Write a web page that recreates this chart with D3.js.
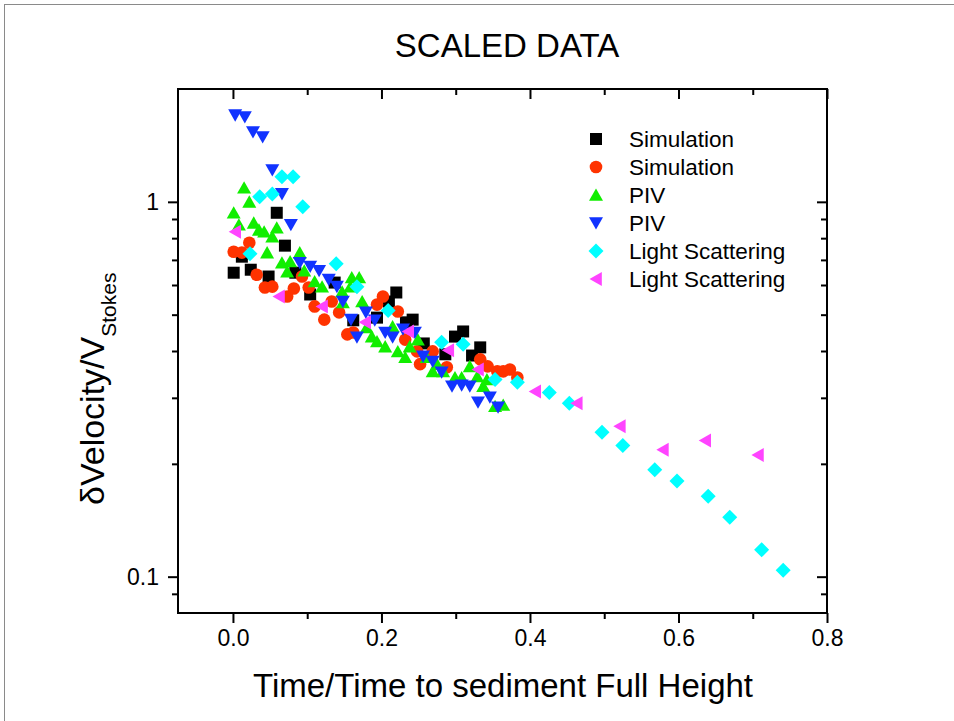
<!DOCTYPE html>
<html>
<head>
<meta charset="utf-8">
<script src="https://cdn.jsdelivr.net/npm/d3@7"></script>
<style>
  body { margin: 0; background: #fff; }
  svg text { font-family: "Liberation Sans", Arial, sans-serif; fill: #000; }
</style>
</head>
<body>
<div id="chart"></div>
<script>
// x: time / time to sediment full height, y: dV / V_stokes
const simSquareX = [0.001,0.012,0.024,0.048,0.059,0.070,0.084,0.104,0.137,0.162,0.194,0.210,0.220,0.233,0.242,0.257,0.286,0.299,0.310,0.322,0.333];
const simSquareY = [0.647,0.714,0.659,0.632,0.935,0.764,0.647,0.566,0.609,0.483,0.491,0.542,0.573,0.477,0.485,0.419,0.392,0.437,0.451,0.389,0.409];

const simCircleX = [0.001,0.012,0.022,0.032,0.043,0.053,0.073,0.082,0.093,0.102,0.110,0.123,0.133,0.143,0.154,0.162,0.194,0.202,0.222,0.232,0.248,0.252,0.269,0.288,0.333,0.343,0.356,0.364,0.373,0.383];
const simCircleY = [0.736,0.732,0.778,0.639,0.591,0.594,0.559,0.587,0.632,0.591,0.526,0.485,0.542,0.507,0.443,0.448,0.532,0.559,0.510,0.429,0.399,0.369,0.399,0.362,0.380,0.364,0.353,0.353,0.357,0.340];

const pivUpX = [0.001,0.008,0.015,0.022,0.028,0.035,0.042,0.046,0.053,0.059,0.066,0.073,0.077,0.090,0.096,0.110,0.120,0.147,0.160,0.170,0.174,0.148,0.158,0.180,0.187,0.194,0.205,0.215,0.222,0.232,0.238,0.249,0.261,0.269,0.275,0.283,0.299,0.308,0.319,0.329,0.337,0.342,0.353,0.364];
const pivUpY = [0.935,0.869,1.090,1.000,0.879,0.842,0.832,0.732,0.807,0.853,0.688,0.651,0.693,0.732,0.655,0.613,0.594,0.576,0.628,0.628,0.542,0.539,0.594,0.462,0.437,0.424,0.411,0.465,0.399,0.385,0.411,0.429,0.385,0.353,0.369,0.353,0.340,0.340,0.364,0.342,0.322,0.336,0.285,0.287];

const pivDownX = [0.003,0.016,0.027,0.040,0.053,0.066,0.078,0.090,0.104,0.116,0.129,0.140,0.148,0.159,0.167,0.179,0.191,0.205,0.215,0.229,0.245,0.256,0.269,0.281,0.295,0.308,0.319,0.330,0.346,0.357];
const pivDownY = [1.703,1.683,1.535,1.489,1.216,1.050,0.869,0.688,0.672,0.655,0.620,0.594,0.542,0.485,0.435,0.507,0.483,0.448,0.435,0.457,0.448,0.387,0.375,0.351,0.322,0.324,0.322,0.292,0.301,0.283];

const lsDiamondX = [0.023,0.036,0.053,0.066,0.081,0.094,0.139,0.167,0.209,0.281,0.310,0.353,0.383,0.426,0.453,0.497,0.525,0.568,0.598,0.640,0.669,0.712,0.741];
const lsDiamondY = [0.727,1.031,1.050,1.166,1.166,0.970,0.684,0.594,0.513,0.422,0.417,0.336,0.330,0.310,0.290,0.243,0.224,0.193,0.180,0.164,0.144,0.118,0.104];

const lsLeftX = [0.003,0.062,0.120,0.178,0.236,0.290,0.330,0.407,0.463,0.521,0.579,0.636,0.707];
const lsLeftY = [0.832,0.559,0.526,0.477,0.451,0.402,0.357,0.312,0.290,0.252,0.218,0.231,0.211];

const seriesNames = ["Simulation", "Simulation", "PIV", "PIV", "Light Scattering", "Light Scattering"];
const seriesColors = ["#000000", "#ff3300", "#11ee00", "#1133ff", "#00ffff", "#ff44ff"];

const xMajor = [0, 0.2, 0.4, 0.6, 0.8];
const xMinor = [0.1, 0.3, 0.5, 0.7];
const yMajor = [0.1, 1];
const yMinor = [0.09, 0.2, 0.3, 0.4, 0.5, 0.6, 0.7, 0.8, 0.9];

// marker shapes
const shapes = {
  square: "M-6,-6h12v12h-12Z",
  circle: "M6.3,0A6.3,6.3 0 1,1 -6.3,0A6.3,6.3 0 1,1 6.3,0Z",
  up: "M0,-6.5L7,5.8L-7,5.8Z",
  down: "M-7,-5.8L7,-5.8L0,6.5Z",
  diamond: "M0,-7.5L7.5,0L0,7.5L-7.5,0Z",
  left: "M-6.5,0L5.8,-7L5.8,7Z"
};

const series = [
  { xs: simSquareX, ys: simSquareY, shape: "square" },
  { xs: simCircleX, ys: simCircleY, shape: "circle" },
  { xs: pivUpX, ys: pivUpY, shape: "up" },
  { xs: pivDownX, ys: pivDownY, shape: "down" },
  { xs: lsDiamondX, ys: lsDiamondY, shape: "diamond" },
  { xs: lsLeftX, ys: lsLeftY, shape: "left" }
].map((s, i) => ({ ...s, name: seriesNames[i], color: seriesColors[i] }));

const W = 954, H = 721;
const margin = { top: 89, right: 127, bottom: 108, left: 178 };
const width = W - margin.left - margin.right;
const height = H - margin.top - margin.bottom;

const svg = d3.select("#chart")
  .append("svg")
  .attr("width", W)
  .attr("height", H);

svg.append("rect")
  .attr("width", W).attr("height", H)
  .attr("fill", "#fff");

// outer frame of the page
svg.append("rect")
  .attr("x", 4.5).attr("y", 4.5)
  .attr("width", W + 20).attr("height", H + 20)
  .attr("fill", "none")
  .attr("stroke", "#8a8a8a");

svg.append("text")
  .attr("x", 507)
  .attr("y", 57)
  .attr("text-anchor", "middle")
  .style("font-size", "33px")
  .text("SCALED DATA");

const g = svg.append("g")
  .attr("transform", `translate(${margin.left},${margin.top})`);

const x = d3.scaleLinear()
  .domain([-0.074, 0.8])
  .range([0, width]);

const y = d3.scaleLog()
  .domain([0.08, 2])
  .range([height, 0]);

function styleAxis(sel) {
  sel.select(".domain").remove();
  sel.selectAll(".tick line").attr("stroke", "#000").attr("stroke-width", 2);
  sel.selectAll(".tick text").style("font-size", "23px");
}

// bottom
g.append("g")
  .attr("transform", `translate(0,${height})`)
  .call(d3.axisBottom(x).tickValues(xMajor).tickFormat(d3.format(".1f")).tickSize(10).tickPadding(7))
  .call(styleAxis);
g.append("g")
  .attr("transform", `translate(0,${height})`)
  .call(d3.axisBottom(x).tickValues(xMinor).tickFormat("").tickSize(6))
  .call(styleAxis);

// top (inward)
g.append("g")
  .call(d3.axisTop(x).tickValues(xMajor).tickFormat("").tickSize(-10))
  .call(styleAxis);
g.append("g")
  .call(d3.axisTop(x).tickValues(xMinor).tickFormat("").tickSize(-6))
  .call(styleAxis);

// left
g.append("g")
  .call(d3.axisLeft(y).tickValues(yMajor).tickFormat(d => d === 1 ? "1" : "0.1").tickSize(10).tickPadding(9))
  .call(styleAxis);
g.append("g")
  .call(d3.axisLeft(y).tickValues(yMinor).tickFormat("").tickSize(6))
  .call(styleAxis);

// right (inward)
g.append("g")
  .attr("transform", `translate(${width},0)`)
  .call(d3.axisRight(y).tickValues(yMajor).tickFormat("").tickSize(-10))
  .call(styleAxis);
g.append("g")
  .attr("transform", `translate(${width},0)`)
  .call(d3.axisRight(y).tickValues(yMinor).tickFormat("").tickSize(-6))
  .call(styleAxis);

g.append("rect")
  .attr("width", width)
  .attr("height", height)
  .attr("fill", "none")
  .attr("stroke", "#000")
  .attr("stroke-width", 2);

// points
series.forEach(s => {
  g.append("g")
    .selectAll("path")
    .data(s.xs.map((v, i) => [v, s.ys[i]]))
    .join("path")
    .attr("transform", d => `translate(${x(d[0])},${y(d[1])})`)
    .attr("d", shapes[s.shape])
    .attr("fill", s.color);
});

// legend
const legend = svg.append("g").attr("transform", "translate(596,139)");
series.forEach((s, i) => {
  legend.append("path")
    .attr("transform", `translate(0,${i * 28})`)
    .attr("d", shapes[s.shape])
    .attr("fill", s.color);
  legend.append("text")
    .attr("x", 33)
    .attr("y", i * 28 + 8)
    .style("font-size", "22.5px")
    .text(s.name);
});

// axis titles
svg.append("text")
  .attr("x", 503)
  .attr("y", 697)
  .attr("text-anchor", "middle")
  .style("font-size", "33px")
  .text("Time/Time to sediment Full Height");

const yl = svg.append("text")
  .attr("transform", "translate(104,505) rotate(-90)");
yl.append("tspan").style("font-size", "34px").text("\u03b4Velocity/V");
yl.append("tspan").attr("dy", 12).style("font-size", "21px").text("Stokes");
</script>
</body>
</html>
